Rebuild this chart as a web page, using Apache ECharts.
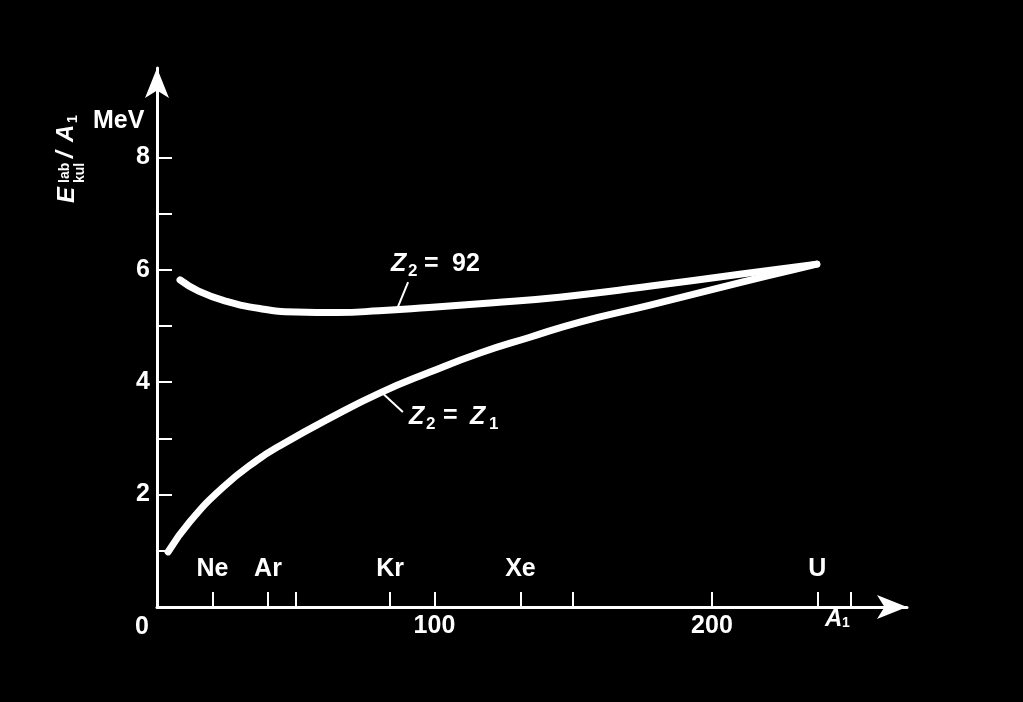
<!DOCTYPE html>
<html>
<head>
<meta charset="utf-8">
<script src="https://cdn.jsdelivr.net/npm/echarts@6/dist/echarts.min.js"></script>
<style>
html,body{margin:0;padding:0;background:#000;}
#chart{width:1023px;height:702px;}
</style>
</head>
<body>
<div id="chart"></div>
<script>
// ---- data ----
var z92A = [8.3, 15, 25, 37, 50, 65, 80, 98, 120, 145, 178, 210, 237.8];
var z92E = [5.82, 5.62, 5.44, 5.31, 5.25, 5.24, 5.27, 5.33, 5.41, 5.51, 5.71, 5.92, 6.10];
var zzA = [4.0, 11.9, 23.8, 36.0, 44.3, 62.3, 80.4, 98.4, 116.4, 134.4, 152.4, 177.7, 210.1, 229.2, 237.8];
var zzE = [0.98, 1.52, 2.13, 2.61, 2.87, 3.36, 3.81, 4.18, 4.52, 4.80, 5.07, 5.37, 5.77, 6.00, 6.10];
var xTickValues = [20, 40, 50, 84, 100, 131, 150, 200, 238, 250];
var xLabelValues = [100, 200];
var elementNames = ['Ne', 'Ar', 'Kr', 'Xe', 'U'];
var elementA = [20, 40, 84, 131, 238];
var yTickValues = [1, 2, 3, 4, 5, 6, 7, 8];
var yLabelValues = [2, 4, 6, 8];
var leader92 = [[86.5, 5.30], [90.5, 5.78]];
var leaderZZ = [[81.4, 3.80], [88.6, 3.47]];

function zip(a, b) { return a.map(function (v, i) { return [v, b[i]]; }); }

var FONT = 'Liberation Sans';
var W = '#ffffff';
function txt(x, y, t, size, opts) {
  opts = opts || {};
  return {
    type: 'text', x: x, y: y, silent: true,
    style: {
      text: t, fill: W,
      font: (opts.italic ? 'italic ' : '') + 'bold ' + size + 'px "' + FONT + '"',
      textAlign: opts.align || 'left',
      textVerticalAlign: 'middle'
    }
  };
}

var chart = echarts.init(document.getElementById('chart'), null, {renderer: 'canvas'});
var axisLineStyle = {color: W, width: 3};
var option = {
  backgroundColor: '#000',
  animation: false,
  grid: {left: 157, top: 68, width: 750, height: 539, containLabel: false},
  xAxis: [{
    type: 'value', min: 0, max: 270.3,
    axisLine: {show: true, lineStyle: axisLineStyle, symbol: ['none', 'arrow'], symbolSize: [18, 30]},
    axisTick: {show: true, inside: true, length: 15, customValues: xTickValues, lineStyle: {color: W, width: 2}},
    axisLabel: {show: true, customValues: xLabelValues, color: W, fontSize: 25, fontWeight: 'bold', fontFamily: FONT, margin: 7},
    splitLine: {show: false}
  }, {
    type: 'value', min: 0, max: 270.3, position: 'bottom',
    axisLine: {show: false}, axisTick: {show: false}, splitLine: {show: false},
    axisLabel: {
      show: true, inside: true, margin: 25, customValues: elementA,
      color: W, fontSize: 25, fontWeight: 'bold', fontFamily: FONT,
      formatter: function (v) { var i = elementA.indexOf(v); return i >= 0 ? elementNames[i] : ''; }
    }
  }],
  yAxis: {
    type: 'value', min: 0, max: 9.59,
    axisLine: {show: true, lineStyle: axisLineStyle, symbol: ['none', 'arrow'], symbolSize: [18, 30]},
    axisTick: {show: true, inside: true, length: 15, customValues: yTickValues, lineStyle: {color: W, width: 2}},
    axisLabel: {show: true, customValues: yLabelValues, color: W, fontSize: 25, fontWeight: 'bold', fontFamily: FONT, margin: 7},
    splitLine: {show: false}
  },
  series: [{
    name: 'Z2 = 92', type: 'line', xAxisIndex: 0, data: zip(z92A, z92E),
    smooth: 0.5, showSymbol: false, silent: true,
    lineStyle: {color: W, width: 7, cap: 'round', join: 'round'},
    markLine: {
      silent: true, symbol: ['none', 'none'], label: {show: false},
      lineStyle: {color: W, width: 2, type: 'solid'},
      data: [[{coord: leader92[0]}, {coord: leader92[1]}]]
    }
  }, {
    name: 'Z2 = Z1', type: 'line', xAxisIndex: 0, data: zip(zzA, zzE),
    smooth: 0.5, showSymbol: false, silent: true,
    lineStyle: {color: W, width: 7, cap: 'round', join: 'round'},
    markLine: {
      silent: true, symbol: ['none', 'none'], label: {show: false},
      lineStyle: {color: W, width: 2, type: 'solid'},
      data: [[{coord: leaderZZ[0]}, {coord: leaderZZ[1]}]]
    }
  }],
  graphic: [
    // y axis name, rotated
    {
      type: 'group', x: 75, y: 205, rotation: Math.PI / 2, silent: true,
      children: [
        txt(2, -8, 'E', 24, {italic: true}),
        txt(22, -10, 'lab', 14),
        txt(22, 5, 'kul', 14),
        txt(47, -9, '/', 24, {italic: true}),
        txt(63, -9, 'A', 24, {italic: true}),
        txt(82, -2, '1', 14)
      ]
    },
    txt(93, 121, 'MeV', 25),
    txt(142, 627, '0', 25, {align: 'center'}),
    txt(825, 619, 'A', 24, {italic: true}),
    txt(842, 623, '1', 14),
    // curve labels
    txt(391, 264, 'Z', 25, {italic: true}),
    txt(408, 271, '2', 17),
    txt(424, 264, '=', 25),
    txt(452, 264, '92', 25),
    txt(409, 417, 'Z', 25, {italic: true}),
    txt(426, 424, '2', 17),
    txt(443, 416, '=', 25),
    txt(470, 417, 'Z', 25, {italic: true}),
    txt(489, 424, '1', 17)
  ]
};
chart.setOption(option);
</script>
</body>
</html>
